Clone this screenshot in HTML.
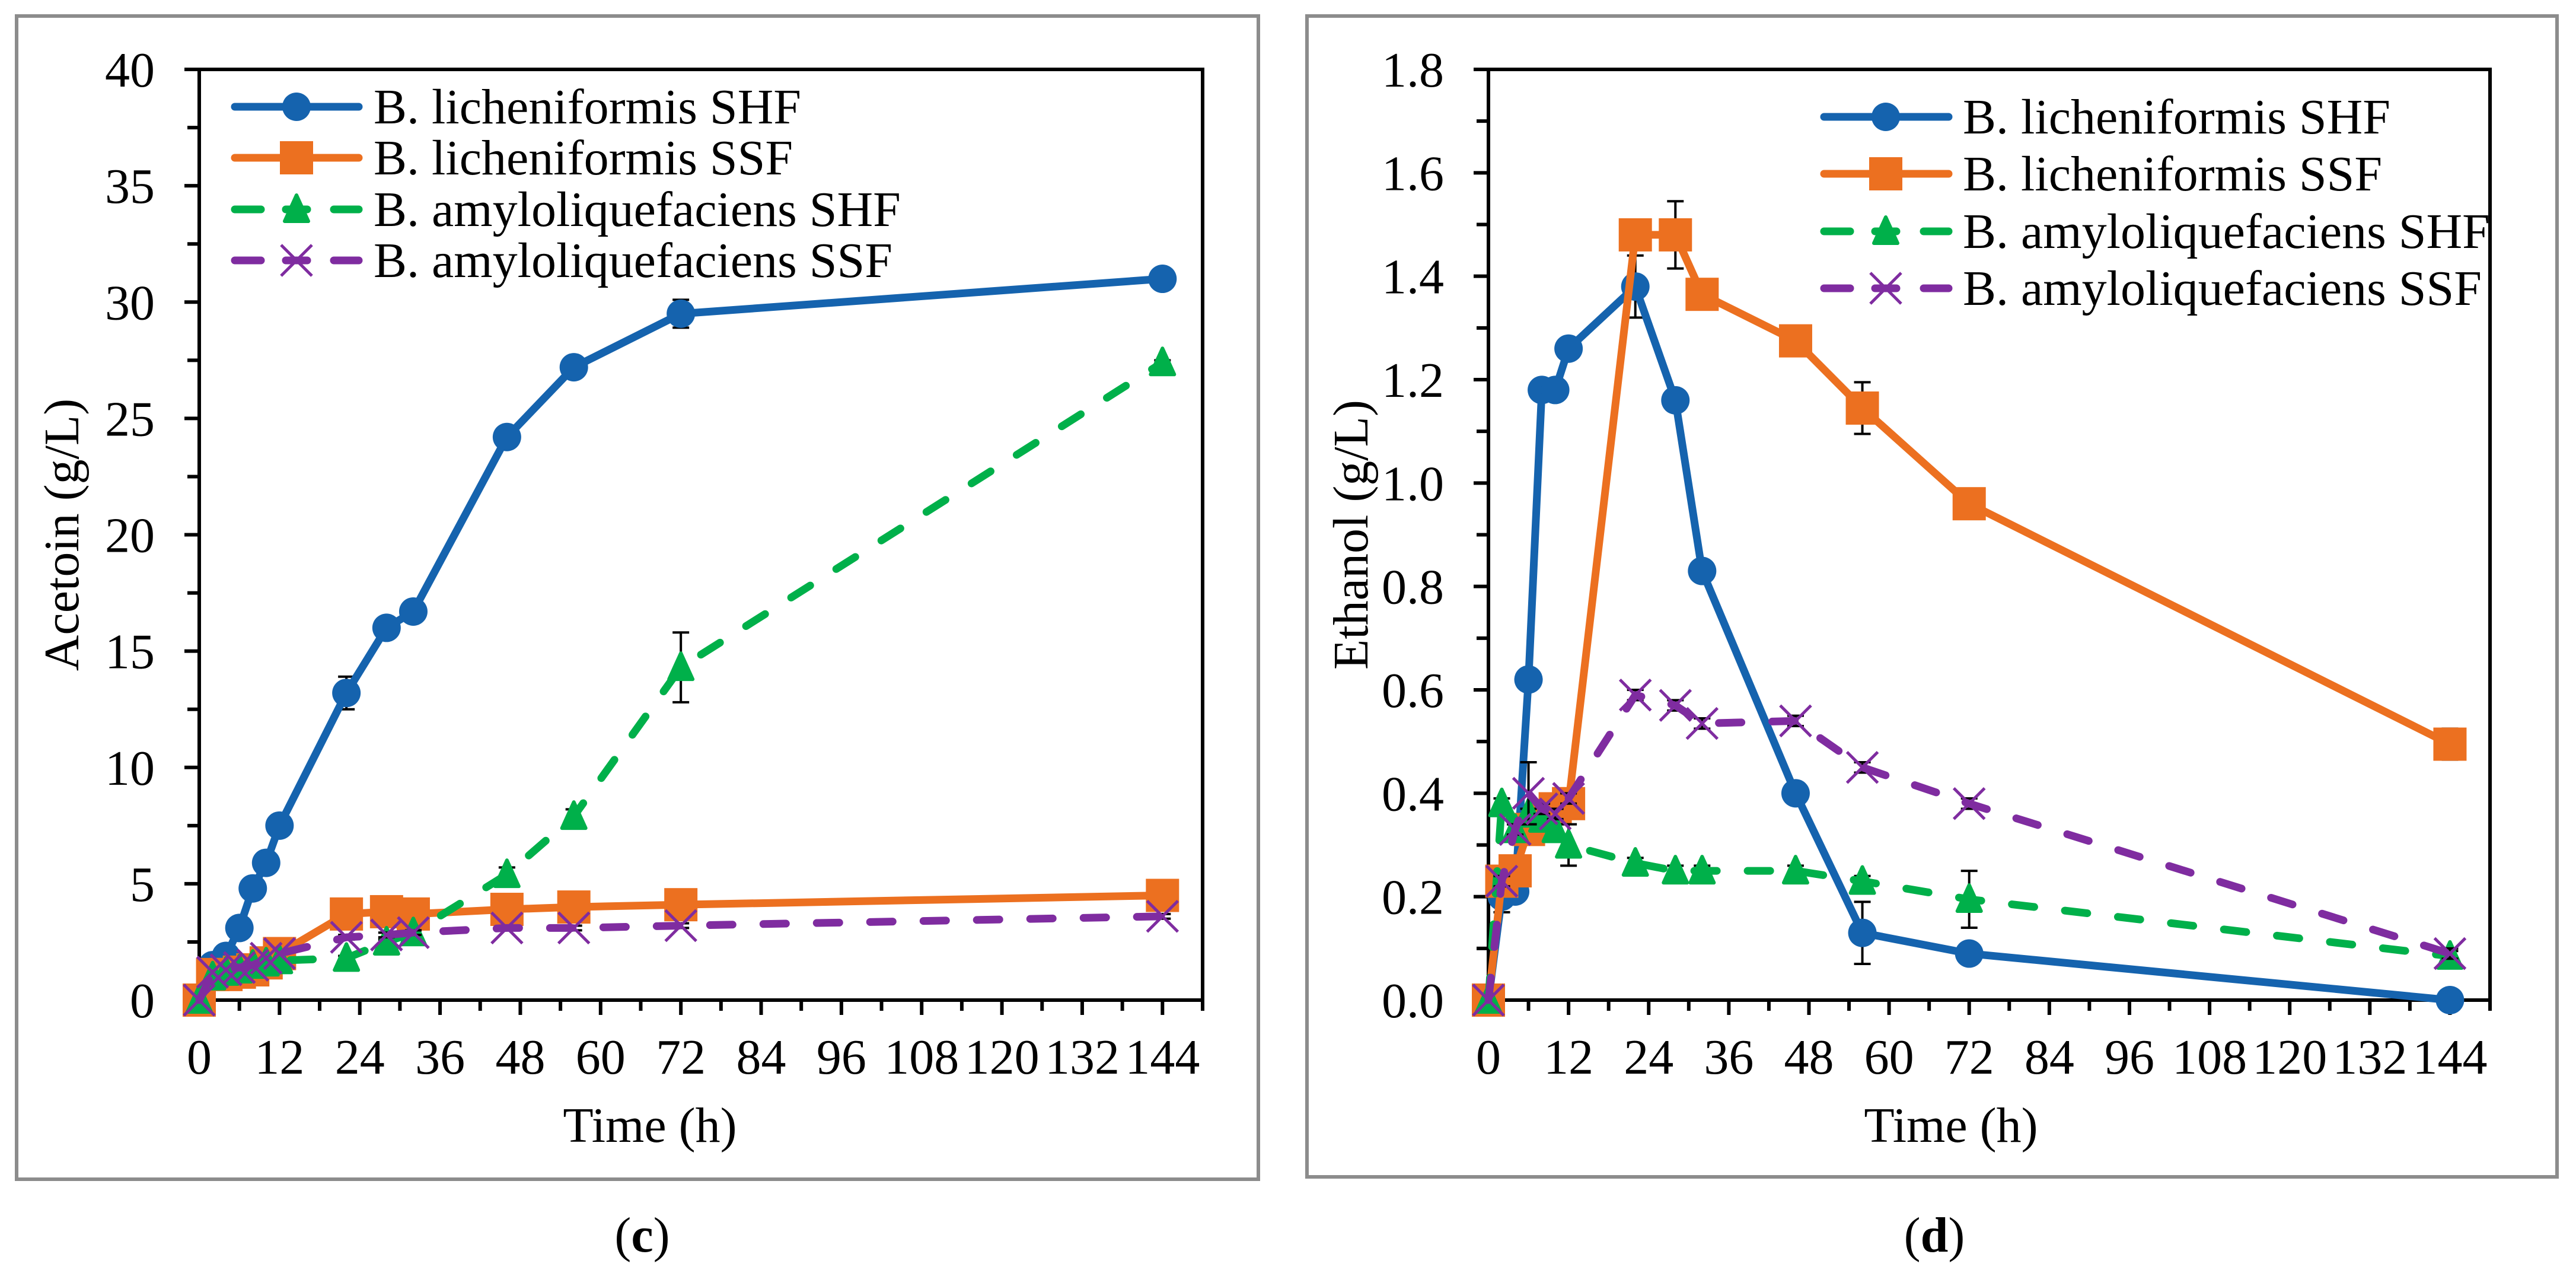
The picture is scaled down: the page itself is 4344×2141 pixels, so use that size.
<!DOCTYPE html>
<html><head><meta charset="utf-8"><style>
html,body{margin:0;padding:0;background:#fff;}
svg{display:block;font-family:"Liberation Serif","Times New Roman",serif;}
</style></head><body>
<svg id="fig" width="4344" height="2141" viewBox="0 0 4344 2141" xmlns="http://www.w3.org/2000/svg">
<rect x="0" y="0" width="4344" height="2141" fill="#fff"/>
<rect x="28" y="27" width="2094" height="1961" fill="none" stroke="#8c8c8c" stroke-width="6"/>
<rect x="2204" y="27" width="2108" height="1957" fill="none" stroke="#8c8c8c" stroke-width="6"/>
<text x="1083" y="2110" font-size="84" text-anchor="middle">(<tspan font-weight="bold">c</tspan>)</text>
<text x="3262" y="2110" font-size="84" text-anchor="middle">(<tspan font-weight="bold">d</tspan>)</text>
<g id="chartC"></g>
<g id="chartD"></g>
</svg>
<script>
// ---- shared data ----
const times = [0, 2, 4, 6, 8, 10, 12, 22, 28, 32, 46, 56, 72, 144];
const seriesNames = ["B. licheniformis SHF", "B. licheniformis SSF", "B. amyloliquefaciens SHF", "B. amyloliquefaciens SSF"];
const xTickLabels = [0, 12, 24, 36, 48, 60, 72, 84, 96, 108, 120, 132, 144];

// ---- acetoin (c) ----
const acetoinLichSHF = [0, 1.5, 1.9, 3.1, 4.8, 5.9, 7.5, 13.2, 16.0, 16.7, 24.2, 27.2, 29.5, 31.0];
const acetoinLichSSF = [0, 1.1, 1.1, 1.2, 1.3, 1.6, 2.0, 3.7, 3.8, 3.7, 3.9, 4.0, 4.1, 4.5];
const acetoinAmyShf = [0, 1.0, 1.2, 1.3, 1.5, 1.6, 1.7, 1.8, 2.5, 2.9, 5.4, 7.9, 14.3, 27.4];
const acetoinAmySSF = [0, 1.2, 1.3, 1.4, 1.5, 1.8, 2.0, 2.7, 2.8, 2.9, 3.1, 3.1, 3.2, 3.6];
const acetoinErrLichSHF = [0, 0, 0, 0, 0, 0, 0, 0.7, 0.3, 0.2, 0.2, 0.2, 0.6, 0.2];
const acetoinErrLichSSF = [0, 0, 0, 0, 0, 0, 0, 0.1, 0.1, 0.1, 0.1, 0.1, 0.1, 0.1];
const acetoinErrAmySHF = [0, 0, 0, 0, 0, 0, 0, 0.1, 0.1, 0.1, 0.3, 0.3, 1.5, 0.1];
const acetoinErrAmySSF = [0, 0, 0, 0, 0, 0, 0, 0.1, 0.1, 0.1, 0.1, 0.1, 0.1, 0.1];
const acetoinYTicks = [0, 5, 10, 15, 20, 25, 30, 35, 40];

// ---- ethanol (d) ----
const ethanolLichSHF = [0, 0.20, 0.21, 0.62, 1.18, 1.18, 1.26, 1.38, 1.16, 0.83, 0.40, 0.13, 0.09, 0.0];
const ethanolLichSSF = [0, 0.23, 0.25, 0.33, 0.35, 0.37, 0.38, 1.48, 1.48, 1.365, 1.275, 1.145, 0.96, 0.495];
const ethanolAmySHF = [0, 0.38, 0.33, 0.36, 0.35, 0.33, 0.30, 0.265, 0.25, 0.25, 0.25, 0.23, 0.195, 0.085];
const ethanolAmySSF = [0, 0.23, 0.33, 0.40, 0.37, 0.36, 0.39, 0.59, 0.57, 0.535, 0.54, 0.45, 0.38, 0.09];
const ethanolErrLichSHF = [0, 0.03, 0.01, 0.01, 0.02, 0.02, 0.01, 0.06, 0.01, 0.01, 0.01, 0.06, 0.01, 0.01];
const ethanolErrLichSSF = [0, 0.01, 0.01, 0.01, 0.01, 0.01, 0.01, 0.01, 0.065, 0.01, 0.01, 0.05, 0.01, 0.03];
const ethanolErrAmySHF = [0, 0.01, 0.01, 0.01, 0.01, 0.01, 0.04, 0.01, 0.01, 0.01, 0.01, 0.01, 0.055, 0.01];
const ethanolErrAmySSF = [0, 0.01, 0.01, 0.06, 0.01, 0.01, 0.01, 0.01, 0.01, 0.01, 0.01, 0.01, 0.01, 0.01];
const ethanolYTicks = [0, 0.2, 0.4, 0.6, 0.8, 1.0, 1.2, 1.4, 1.6, 1.8];

const NS = "http://www.w3.org/2000/svg";
const COLORS = ["#1563ae", "#ec7020", "#00b04a", "#7f2ca0"];
const MARKERS = ["circle", "square", "triangle", "cross"];
const DASHED = [false, false, true, true];

function mk(tag, attrs, parent) {
  const e = document.createElementNS(NS, tag);
  for (const k in attrs) e.setAttribute(k, attrs[k]);
  parent.appendChild(e);
  return e;
}

function marker(g, type, cx, cy, color) {
  let m;
  if (type === "circle") {
    m = mk("circle", {cx: cx, cy: cy, r: 24, fill: color}, g);
  } else if (type === "square") {
    m = mk("rect", {x: cx - 28, y: cy - 28, width: 56, height: 56, fill: color}, g);
  } else if (type === "triangle") {
    m = mk("polygon", {points: (cx) + "," + (cy - 24) + " " + (cx + 20) + "," + (cy + 20) + " " + (cx - 20) + "," + (cy + 20), fill: color, stroke: color, "stroke-width": 6, "stroke-linejoin": "round"}, g);
  } else {
    m = mk("path", {d: "M" + (cx - 26) + "," + (cy - 26) + "L" + (cx + 26) + "," + (cy + 26) + "M" + (cx + 26) + "," + (cy - 26) + "L" + (cx - 26) + "," + (cy + 26), stroke: color, "stroke-width": 5, fill: "none"}, g);
  }
  return m;
}

function drawChart(gid, cfg) {
  const g = document.getElementById(gid);
  const L = cfg.left, R = cfg.right, T = 117, B = 1686;
  const X = v => L + (v / 150) * (R - L);
  const Y = v => B - (v / cfg.ymax) * (B - T);

  // y ticks
  const yStep = cfg.yTicks[1] - cfg.yTicks[0];
  for (let i = 0; i < cfg.yTicks.length; i++) {
    const v = cfg.yTicks[i];
    const t = mk("line", {x1: L - 25, x2: L, y1: Y(v), y2: Y(v), stroke: "#000", "stroke-width": 6}, g);
    
    
    if (i < cfg.yTicks.length - 1) {
      const mn = mk("line", {x1: L - 20, x2: L, y1: Y(v + yStep / 2), y2: Y(v + yStep / 2), stroke: "#000", "stroke-width": 6}, g);
      
      
    }
    const lb = mk("text", {x: L - 75, y: Y(v) + 29, "font-size": 84, "text-anchor": "end"}, g);
    lb.textContent = cfg.yFmt(v);
    
    
  }
  // x ticks
  for (let i = 0; i < xTickLabels.length; i++) {
    const v = xTickLabels[i];
    const t = mk("line", {x1: X(v), x2: X(v), y1: B, y2: B + 25, stroke: "#000", "stroke-width": 6}, g);
    
    
    const mn = mk("line", {x1: X(v + 6), x2: X(v + 6), y1: B, y2: B + 18, stroke: "#000", "stroke-width": 6}, g);
    
    
    const lb = mk("text", {x: X(v), y: 1810, "font-size": 84, "text-anchor": "middle"}, g);
    lb.textContent = String(v);
    
    
  }
  // plot box
  const box = mk("rect", {x: L, y: T, width: R - L, height: B - T, fill: "none", stroke: "#000", "stroke-width": 6}, g);
  
  

  // titles
  const xt = mk("text", {x: cfg.xTitleX, y: 1925, "font-size": 84, "text-anchor": "middle"}, g);
  xt.textContent = "Time (h)";
  
  
  const yt = mk("text", {x: 0, y: 0, "font-size": 84, "text-anchor": "middle", transform: "translate(" + cfg.yTitleX + "," + ((T + B) / 2) + ") rotate(-90)"}, g);
  yt.textContent = cfg.yTitle;
  
  

  // series
  for (let s = 0; s < 4; s++) {
    const vals = cfg.series[s], errs = cfg.errors[s];
    const sg = mk("g", {}, g);
    
    
    // error bars
    for (let i = 0; i < times.length; i++) {
      if (errs[i] <= 0) continue;
      const x = X(times[i]), y1 = Y(vals[i] - errs[i]), y2 = Y(vals[i] + errs[i]);
      const eb = mk("path", {d: "M" + x + "," + y1 + "L" + x + "," + y2 + "M" + (x - 14) + "," + y1 + "L" + (x + 14) + "," + y1 + "M" + (x - 14) + "," + y2 + "L" + (x + 14) + "," + y2, stroke: "#000", "stroke-width": 4, fill: "none"}, sg);
      
      
    }
    let d = "";
    for (let i = 0; i < times.length; i++) d += (i ? "L" : "M") + X(times[i]) + "," + Y(vals[i]);
    const attrs = {d: d, fill: "none", stroke: COLORS[s], "stroke-width": 13, "stroke-linecap": "round", "stroke-linejoin": "round"};
    if (DASHED[s]) attrs["stroke-dasharray"] = "38 52";
    const ln = mk("path", attrs, sg);
    
    
    for (let i = 0; i < times.length; i++) {
      const m = marker(sg, MARKERS[s], X(times[i]), Y(vals[i]), COLORS[s]);
      
      
    }
  }

  // legend
  const lg = mk("g", {}, g);
  
  
  for (let s = 0; s < 4; s++) {
    const y = cfg.legRows[s];
    const eg = mk("g", {}, lg);
    
    
    if (DASHED[s]) {
      mk("line", {x1: cfg.legX1, x2: cfg.legX1 + 44, y1: y, y2: y, stroke: COLORS[s], "stroke-width": 13, "stroke-linecap": "round"}, eg);
      mk("line", {x1: cfg.legM - 18, x2: cfg.legM + 18, y1: y, y2: y, stroke: COLORS[s], "stroke-width": 13, "stroke-linecap": "round"}, eg);
      mk("line", {x1: cfg.legX2 - 42, x2: cfg.legX2, y1: y, y2: y, stroke: COLORS[s], "stroke-width": 13, "stroke-linecap": "round"}, eg);
    } else {
      mk("line", {x1: cfg.legX1, x2: cfg.legX2, y1: y, y2: y, stroke: COLORS[s], "stroke-width": 13, "stroke-linecap": "round"}, eg);
    }
    marker(eg, MARKERS[s], cfg.legM, y, COLORS[s]);
    const tx = mk("text", {x: cfg.legText, y: y + 28, "font-size": 84}, eg);
    tx.textContent = seriesNames[s];
  }
}

drawChart("chartC", {
  left: 336, right: 2028, ymax: 40, yTicks: acetoinYTicks, yFmt: v => String(v),
  yTitle: "Acetoin (g/L)", yTitleX: 132, xTitleX: 1096,
  series: [acetoinLichSHF, acetoinLichSSF, acetoinAmyShf, acetoinAmySSF],
  errors: [acetoinErrLichSHF, acetoinErrLichSSF, acetoinErrAmySHF, acetoinErrAmySSF],
  legRows: [180, 266, 353, 439], legX1: 396, legX2: 605, legM: 500, legText: 630
});
drawChart("chartD", {
  left: 2510, right: 4199, ymax: 1.8, yTicks: ethanolYTicks, yFmt: v => v.toFixed(1),
  yTitle: "Ethanol (g/L)", yTitleX: 2306, xTitleX: 3290,
  series: [ethanolLichSHF, ethanolLichSSF, ethanolAmySHF, ethanolAmySSF],
  errors: [ethanolErrLichSHF, ethanolErrLichSSF, ethanolErrAmySHF, ethanolErrAmySSF],
  legRows: [197, 293, 390, 486], legX1: 3076, legX2: 3286, legM: 3180, legText: 3310
});
</script>
</body></html>
